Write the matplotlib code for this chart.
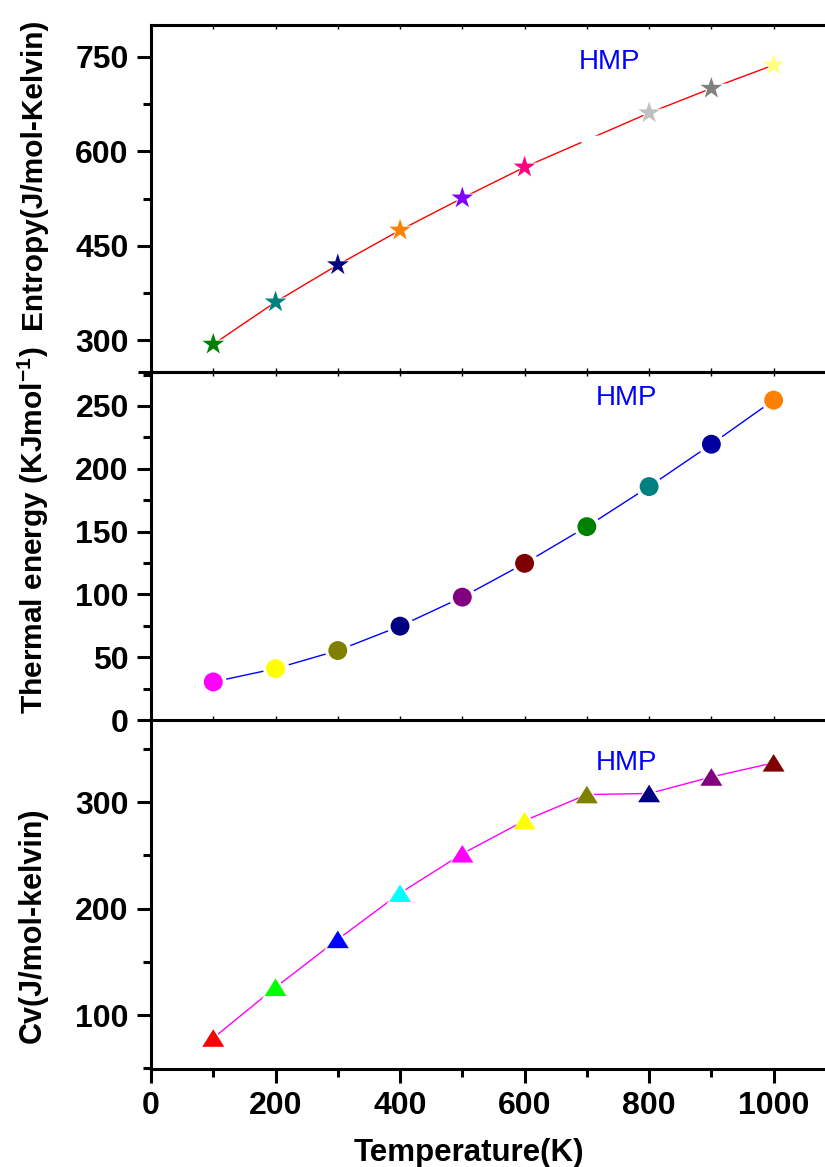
import matplotlib
matplotlib.use("Agg")
import matplotlib.pyplot as plt
from matplotlib.ticker import MultipleLocator

plt.rcParams['font.family'] = ['Liberation Sans', 'DejaVu Sans']
plt.rcParams['mathtext.fontset'] = 'custom'
plt.rcParams['mathtext.rm'] = 'Liberation Sans'
plt.rcParams['mathtext.bf'] = 'Liberation Sans:bold'

# ---------------- data ----------------
temperature = [100, 200, 300, 400, 500, 600, 700, 800, 900, 1000]

entropy = [294, 361, 420, 475, 526, 575, 618, 661, 700, 737]
entropy_colors = ['#008000', '#008080', '#000080', '#FF8000', '#8000FF',
                  '#FF0080', '#FFFFFF', '#C0C0C0', '#808080', '#FFFF80']

thermal = [30.3, 40.9, 55.3, 74.7, 97.8, 124.7, 153.9, 185.8, 219.5, 254.6]
thermal_colors = ['#FF00FF', '#FFFF00', '#808000', '#000080', '#800080',
                  '#800000', '#008000', '#008080', '#0000A0', '#FF8000']

cv = [78.4, 126, 171, 214.4, 251.4, 282.5, 307, 308, 323.5, 336.8]
cv_colors = ['#FF0000', '#00FF00', '#0000FF', '#00FFFF', '#FF00FF',
             '#FFFF00', '#808000', '#000080', '#800080', '#800000']

xticks = [0, 200, 400, 600, 800, 1000]
label_text = 'HMP'

# ---------------- figure ----------------
W, H = 825, 1167
fig = plt.figure(figsize=(W / 100, H / 100), dpi=100)

left = 151 / W
width = 1 - left
ax1 = fig.add_axes([left, 1 - 372 / H, width, 347 / H])
ax2 = fig.add_axes([left, 1 - 720 / H, width, 348 / H])
ax3 = fig.add_axes([left, 1 - 1069 / H, width, 349 / H])

tri = [(0, 0.8), (-1, -0.8), (1, -0.8)]

def draw(ax, y, colors, line_color, marker, face_s, halo_s):
    ax.plot(temperature, y, color=line_color, lw=1.0, zorder=2)
    ax.scatter(temperature, y, s=halo_s, marker=marker, c='white',
               linewidths=0, zorder=3)
    ax.scatter(temperature, y, s=face_s, marker=marker, c=colors,
               linewidths=0, zorder=4)

draw(ax1, entropy, entropy_colors, '#FF0000', '*', 270, 520)
draw(ax2, thermal, thermal_colors, '#0000FF', 'o', 185, 360)
draw(ax3, cv, cv_colors, '#FF00FF', tri, 250, 440)

ax1.set_ylim(250, 800.5)
ax2.set_ylim(0, 277)
ax3.set_ylim(49.3, 377)

ax1.yaxis.set_major_locator(MultipleLocator(150))
ax1.yaxis.set_minor_locator(MultipleLocator(75))
ax2.yaxis.set_major_locator(MultipleLocator(50))
ax2.yaxis.set_minor_locator(MultipleLocator(25))
ax3.yaxis.set_major_locator(MultipleLocator(100))
ax3.yaxis.set_minor_locator(MultipleLocator(50))

TICK_FS = 23

for ax in (ax1, ax2, ax3):
    ax.set_xlim(0, 1082.5)
    ax.spines['right'].set_visible(False)
    for sp in ('left', 'bottom', 'top'):
        ax.spines[sp].set_linewidth(2.2)
    ax.xaxis.set_major_locator(MultipleLocator(200))
    ax.xaxis.set_minor_locator(MultipleLocator(100))
    ax.tick_params(axis='y', which='major', direction='out', length=10,
                   width=2.2, pad=6, labelsize=TICK_FS)
    ax.tick_params(axis='y', which='minor', direction='out', length=6,
                   width=2.2)
    for lab in ax.get_yticklabels():
        lab.set_fontweight('bold')
    ax.patch.set_alpha(0)

for ax in (ax1, ax2):
    ax.tick_params(axis='x', which='both', direction='in', length=3,
                   width=1, top=True, bottom=True, labelbottom=False)

ax3.spines['top'].set_visible(False)
ax3.set_xticks(xticks)
ax3.tick_params(axis='x', which='major', direction='out', length=10,
                width=2.2, pad=6, labelsize=TICK_FS)
ax3.tick_params(axis='x', which='minor', direction='out', length=6,
                width=2.2)
for lab in ax3.get_xticklabels():
    lab.set_fontweight('bold')

ax2.plot([-0.019, 0], [1, 1], transform=ax2.transAxes, clip_on=False,
         color='black', lw=2.2, solid_capstyle='butt')

# HMP labels
ax1.text(0.681, 0.893, label_text, transform=ax1.transAxes, color='#0000FF',
         fontsize=20, ha='center', va='center')
ax2.text(0.705, 0.925, label_text, transform=ax2.transAxes, color='#0000FF',
         fontsize=20, ha='center', va='center')
ax3.text(0.705, 0.877, label_text, transform=ax3.transAxes, color='#0000FF',
         fontsize=20, ha='center', va='center')

# axis labels
fig.text(33 / W, 1 - 174 / H, 'Entropy(J/mol-Kelvin)', rotation=90,
         fontsize=21.5, fontweight='bold', ha='center', va='center')
fig.text(33 / W, 1 - 530 / H, 'Thermal energy (KJmol$^{\\mathbf{-1}}$)',
         rotation=90, fontsize=21.5, fontweight='bold', ha='center',
         va='center')
fig.text(33 / W, 1 - 925 / H, 'Cv(J/mol-kelvin)', rotation=90,
         fontsize=22, fontweight='bold', ha='center', va='center')
fig.text(469 / W, 1 - 1161 / H, 'Temperature(K)', fontsize=22.5,
         fontweight='bold', ha='center', va='baseline')

fig.savefig('out.png', dpi=100)
